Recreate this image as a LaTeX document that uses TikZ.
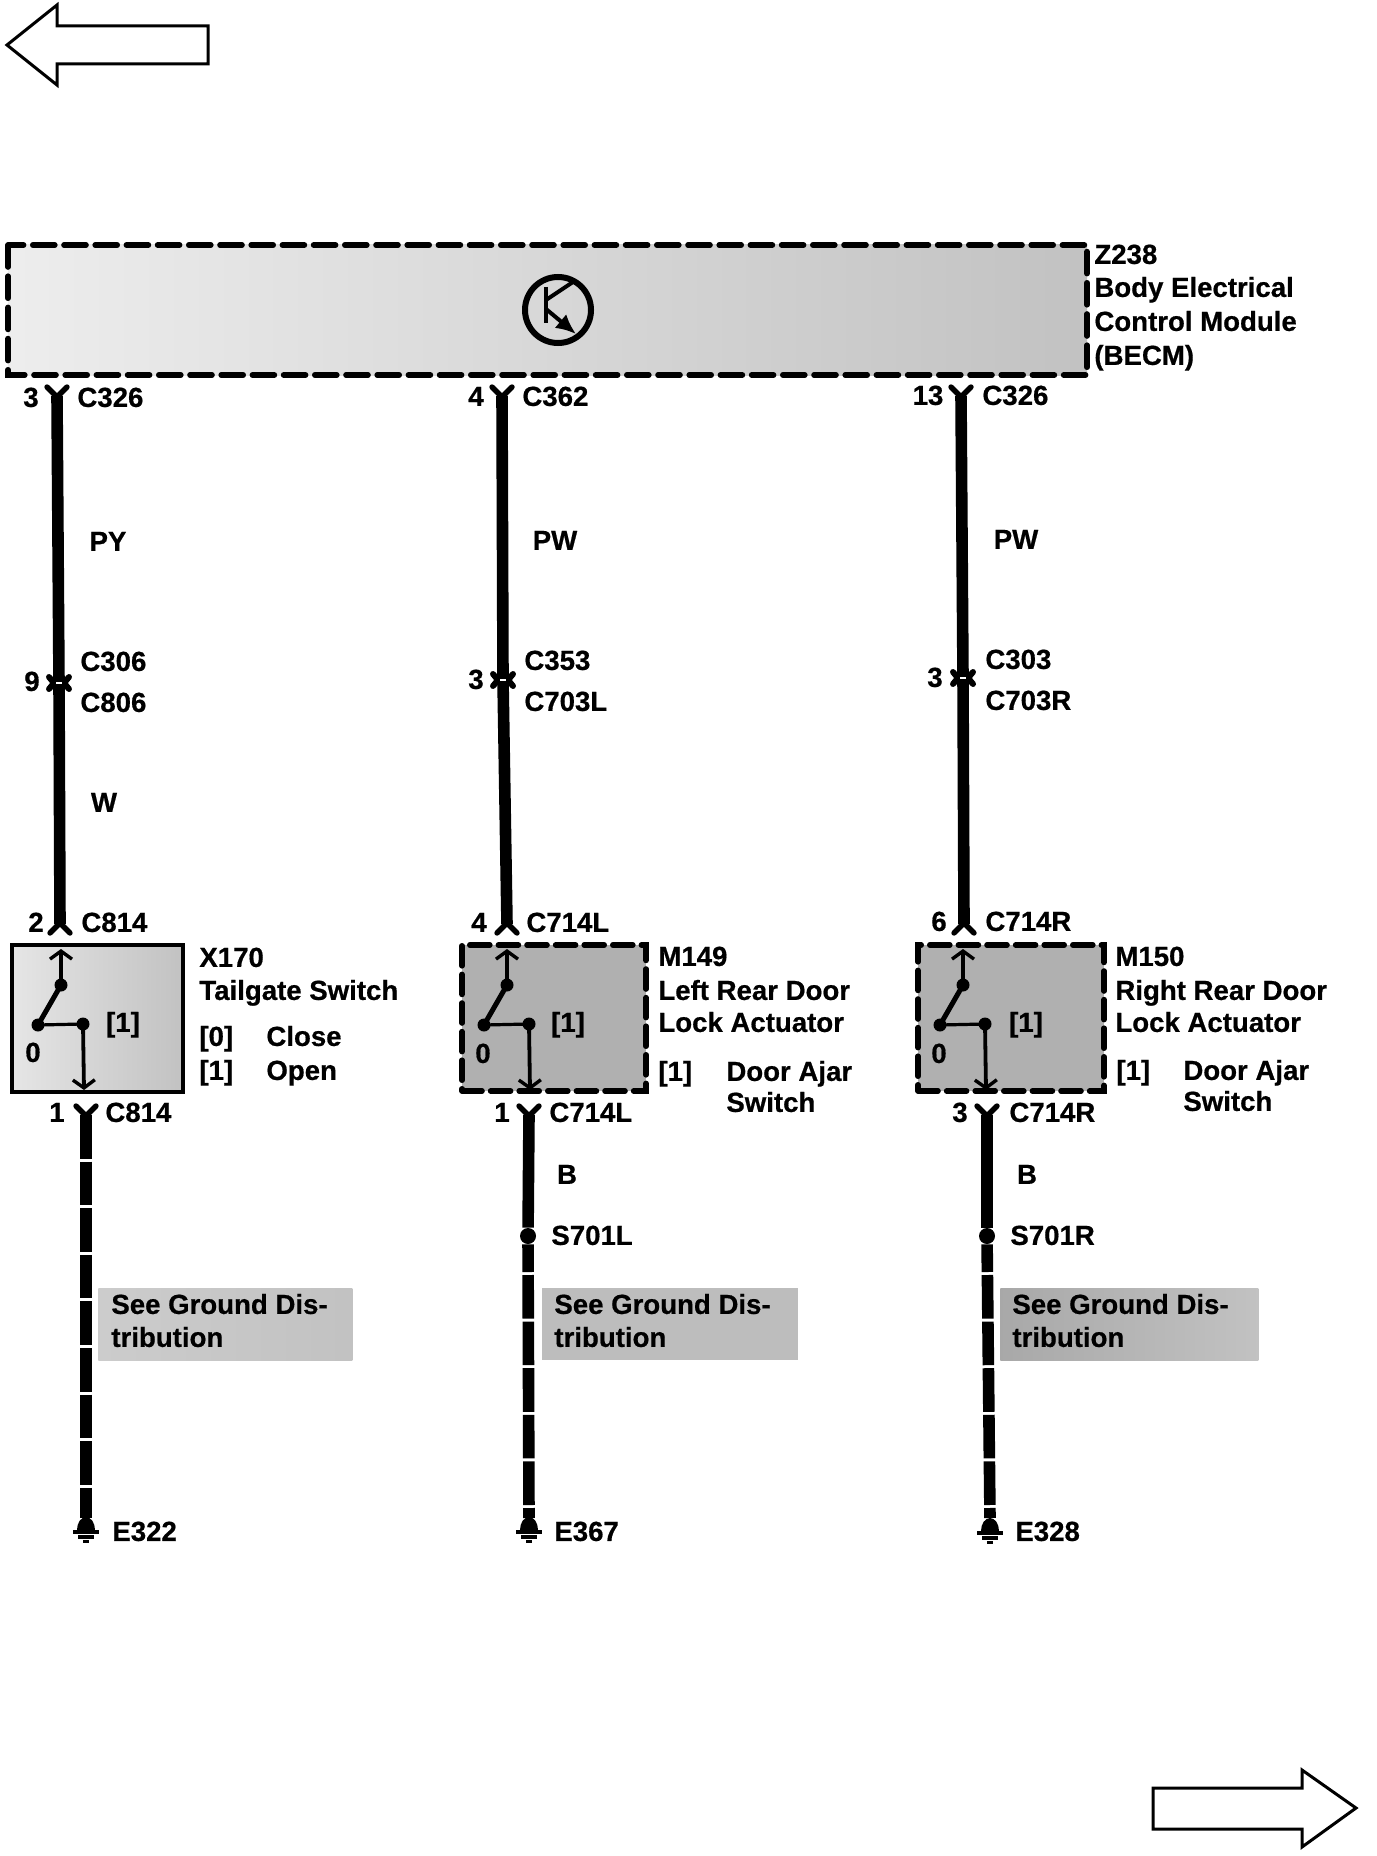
\documentclass[tikz,border=0pt]{standalone}
\usepackage{fontspec}
\setmainfont{Liberation Sans}[BoldFeatures={FakeBold=0.6}]
\usetikzlibrary{arrows.meta}

\tikzset{
  lblc/.style={anchor=center,inner sep=0pt,text height=8.9pt,text depth=0pt,font=\fontsize{13.8}{16}\selectfont\bfseries},
  lbl/.style={lblc,anchor=west,xshift=-0.5pt},
  wire/.style={line width=5.8pt},
  gndwire/.style={wire,dash pattern=on 21.8pt off 1.5pt},
  modbox/.style={line width=2.8pt,line cap=round,dash pattern=on 11pt off 4.6pt},
  seebox/.style={anchor=north west,inner sep=0pt},
  spot/.style={circle,fill=black,inner sep=0pt,minimum size=8pt},
  bigarrow/.style={line width=1.5pt,fill=white,line join=miter},
  % inside a pic the y axis points up again
  pics/forkup/.style={code={\draw [line width=2.7pt,line cap=round,line join=round] (-10,9) -- (0,-1) -- (10,9);}},
  pics/forkdown/.style={code={\draw [line width=2.7pt,line cap=round,line join=round] (-10,-9) -- (0,1) -- (10,-9);}},
  pics/inline/.style={code={
    \draw [line width=3pt,line cap=round,line join=round] (-10,-6) -- (-5,0) -- (-10,6) (10,-6) -- (5,0) -- (10,6);
    \draw [white,line width=1pt] (-3,0) -- (3,0);}},
  pics/ground/.style={code={
    \fill (-9,1) arc (180:0:9 and 13) -- cycle;
    \draw [line width=2pt] (-13,-1) -- (13,-1);
    \draw [line width=2pt] (-8,-6) -- (8,-6);
    \draw [line width=1.5pt] (-3,-10) -- (3,-10);}},
  pics/lever/.style={code={
    \coordinate (-top) at (0,36);
    \coordinate (-dot) at (0,0);
    \coordinate (-piv) at (-23,-40);
    \coordinate (-off) at (22,-39);
    \coordinate (-bot) at (23,-105);
    \draw [line width=1.9pt,-{Straight Barb[length=4pt,width=11pt,line width=1.7pt]}] (-dot) -- (-top);
    \draw [line width=2.5pt] (-dot) -- (-piv);
    \draw [line width=1.6pt] (-piv) -- (-off);
    \draw [line width=1.9pt,-{Straight Barb[length=4pt,width=11pt,line width=1.7pt]}] (-off) -- (-bot);
    \fill (-dot) circle (6.5);
    \fill (-piv) circle (6.5);
    \fill (-off) circle (6.5);}},
}

\begin{document}
\begin{tikzpicture}[x=0.5pt,y=0.5pt,yscale=-1,xscale=1]
\useasboundingbox (0,0) rectangle (1376,1856);

%Page arrows
\draw [bigarrow] (7,45) -- (57,5) -- (57,26) -- (208,26) -- (208,64) -- (57,64) -- (57,85) -- cycle ;
\draw [bigarrow] (1356,1808) -- (1302,1770) -- (1302,1788) -- (1153,1788) -- (1153,1829) -- (1302,1829) -- (1302,1847) -- cycle ;

%Module
\draw [modbox,left color=black!7,middle color=black!28,right color=black!24] (8,245) rectangle (1087,375) ;
\coordinate (becm) at (558,310);
\draw [line width=3pt] (becm) circle (33);
\coordinate (bar1) at (546,287);
\coordinate (bar2) at (546,323);
\coordinate (col) at (573,282);
\coordinate (emi) at (576,334);
\draw [line width=2pt] (bar1) -- (bar2);
\draw [line width=2pt] (546,300) -- (col);
\draw [line width=2pt,-{Latex[length=10pt,width=9pt]}] (546,309) -- (emi);
\node [lbl] (z238) at (1095,255) {Z238};
\node [lbl] (bodyel) at (1095,288) {Body Electrical};
\node [lbl] (ctrl) at (1095,322) {Control Module};
\node [lbl] (becmtxt) at (1095,356) {(BECM)};

%Wire coordinates
\coordinate (a3) at (57,396);
\coordinate (a9) at (59,683);
\coordinate (a2) at (60,924);
\coordinate (a1) at (86,1115);
\coordinate (ae) at (86,1518);
\coordinate (b4) at (502,396);
\coordinate (b3) at (503,680);
\coordinate (b4l) at (507,924);
\coordinate (b1) at (529,1115);
\coordinate (be) at (529,1518);
\coordinate (c13) at (961,396);
\coordinate (c3) at (963,678);
\coordinate (c6) at (964,924);
\coordinate (c1) at (987,1115);
\coordinate (ce) at (990,1518);

%Switch boxes
\node [draw,line width=2.4pt,minimum width=85.5pt,minimum height=73.5pt,inner sep=0pt,left color=black!10,right color=black!24] (x170) at (97.5,1018.5) {};
\node [draw,modbox,dash pattern=on 10pt off 4.3pt,minimum width=92pt,minimum height=73pt,inner sep=0pt,fill=black!31] (m149) at (554,1018) {};
\node [draw,modbox,dash pattern=on 10pt off 4.3pt,minimum width=93pt,minimum height=73pt,inner sep=0pt,fill=black!31] (m150) at (1011,1018) {};

%Upper wires
\draw [wire] (a3) -- (a9) -- (a2) ;
\draw [wire] (b4) -- (b3) -- (b4l) ;
\draw [wire] (c13) -- (c3) -- (c6) ;
\pic at (a3) {forkup};
\pic at (b4) {forkup};
\pic at (c13) {forkup};
\pic at (a9) {inline};
\pic at (b3) {inline};
\pic at (c3) {inline};
\pic at (a2) {forkdown};
\pic at (b4l) {forkdown};
\pic at (c6) {forkdown};

%Switch contents
\pic (swa) at (61,985) {lever};
\pic (swb) at (507,985) {lever};
\pic (swc) at (963,985) {lever};

%Splices
\node [spot] (s701l) at (528,1236) {};
\node [spot] (s701r) at (987,1236) {};

%Ground wires
\draw [gndwire] (a1) -- (ae) ;
\draw [wire] (b1) -- (s701l) ;
\draw [gndwire,dash phase=8pt] (s701l) -- (be) ;
\draw [wire] (c1) -- (s701r) ;
\draw [gndwire,dash phase=8pt] (s701r) -- (ce) ;
\pic at (a1) {forkup};
\pic at (b1) {forkup};
\pic at (c1) {forkup};
\pic at (86,1531) {ground};
\pic at (529,1531) {ground};
\pic at (990,1532) {ground};

%Grey notes
\node [seebox,minimum width=127pt,minimum height=36pt,left color=black!20,right color=black!24] (seea) at (98,1288) {};
\node [seebox,minimum width=128pt,minimum height=36pt,fill=black!26] (seeb) at (542,1288) {};
\node [seebox,minimum width=129pt,minimum height=36pt,left color=black!34,right color=black!24] (seec) at (1000,1288) {};

% Text Node
\node [lblc] (pa3) at (31,398) {3};
\node [lbl] (ca3) at (78,398) {C326};
\node [lblc] (pb4) at (476,397) {4};
\node [lbl] (cb4) at (523,397) {C362};
\node [lblc] (pc13) at (928,396) {13};
\node [lbl] (cc13) at (983,396) {C326};
\node [lblc] (py) at (108,542) {PY};
\node [lblc] (pwb) at (555,541) {PW};
\node [lblc] (pwc) at (1016,540) {PW};
\node [lblc] (pa9) at (32,682) {9};
\node [lbl] (c306) at (81,662) {C306};
\node [lbl] (c806) at (81,703) {C806};
\node [lblc] (pb3) at (476,680) {3};
\node [lbl] (c353) at (525,661) {C353};
\node [lbl] (c703l) at (525,702) {C703L};
\node [lblc] (pc3) at (935,678) {3};
\node [lbl] (c303) at (986,660) {C303};
\node [lbl] (c703r) at (986,701) {C703R};
\node [lblc] (wtxt) at (104,803) {W};
\node [lblc] (pa2) at (36,923) {2};
\node [lbl] (ca2) at (82,923) {C814};
\node [lblc] (pb4l) at (479,923) {4};
\node [lbl] (cb4l) at (527,923) {C714L};
\node [lblc] (pc6) at (939,922) {6};
\node [lbl] (cc6) at (986,922) {C714R};

% Text Node
\node [lblc] (sa1) at (123,1023) {[1]};
\node [lblc] (sa0) at (33,1053) {0};
\node [lblc] (sb1) at (568,1023) {[1]};
\node [lblc] (sb0) at (483,1054) {0};
\node [lblc] (sc1) at (1026,1023) {[1]};
\node [lblc] (sc0) at (939,1054) {0};

% Text Node
\node [lbl] (x170t) at (200,958) {X170};
\node [lbl] (tail) at (200,991) {Tailgate Switch};
\node [lbl] (st0) at (200,1037) {[0]};
\node [lbl] (close) at (267,1037) {Close};
\node [lbl] (st1) at (200,1071) {[1]};
\node [lbl] (open) at (267,1071) {Open};
\node [lbl] (m149t) at (659,957) {M149};
\node [lbl] (lrd) at (659,991) {Left Rear Door};
\node [lbl] (lla) at (659,1023) {Lock Actuator};
\node [lbl] (stb) at (659,1072) {[1]};
\node [lbl] (ajarb) at (727,1072) {Door Ajar};
\node [lbl] (swtb) at (727,1103) {Switch};
\node [lbl] (m150t) at (1116,957) {M150};
\node [lbl] (rrd) at (1116,991) {Right Rear Door};
\node [lbl] (rla) at (1116,1023) {Lock Actuator};
\node [lbl] (stc) at (1117,1071) {[1]};
\node [lbl] (ajarc) at (1184,1071) {Door Ajar};
\node [lbl] (swtc) at (1184,1102) {Switch};

% Text Node
\node [lblc] (pa1) at (57,1113) {1};
\node [lbl] (ca1) at (106,1113) {C814};
\node [lblc] (pb1) at (502,1113) {1};
\node [lbl] (cb1) at (550,1113) {C714L};
\node [lblc] (pc1) at (960,1113) {3};
\node [lbl] (cc1) at (1010,1113) {C714R};
\node [lblc] (bb) at (567,1175) {B};
\node [lblc] (bc) at (1027,1175) {B};
\node [lbl] (s701lt) at (552,1236) {S701L};
\node [lbl] (s701rt) at (1011,1236) {S701R};
\node [lbl] (seea1) at (112,1305) {See Ground Dis-};
\node [lbl] (seea2) at (112,1338) {tribution};
\node [lbl] (seeb1) at (555,1305) {See Ground Dis-};
\node [lbl] (seeb2) at (555,1338) {tribution};
\node [lbl] (seec1) at (1013,1305) {See Ground Dis-};
\node [lbl] (seec2) at (1013,1338) {tribution};
\node [lbl] (e322) at (113,1532) {E322};
\node [lbl] (e367) at (555,1532) {E367};
\node [lbl] (e328) at (1016,1532) {E328};

\end{tikzpicture}
\end{document}
